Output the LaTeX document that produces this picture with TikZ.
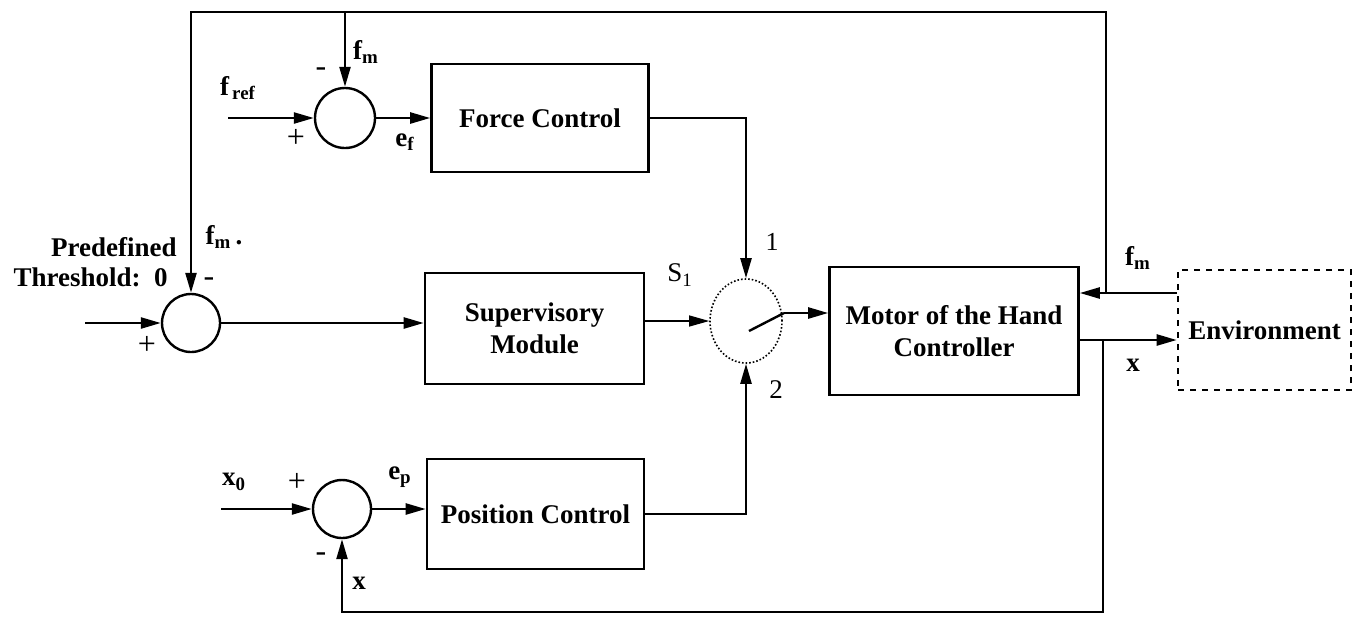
\documentclass[tikz,border=0pt]{standalone}
\usepackage{fontspec}
\setmainfont{Liberation Serif}
\usetikzlibrary{arrows.meta,shapes.geometric}
\begin{document}
\begin{tikzpicture}[x=0.5pt,y={(0pt,-0.5pt)},
  font=\fontsize{13.5}{16}\selectfont\bfseries,
  blk/.style={draw, line width=1.3pt, align=center, inner sep=2pt},
  sumj/.style={draw, circle, line width=1.2pt, minimum size=30pt, inner sep=0pt},
  arr/.style={-{Triangle[length=10pt,width=5.5pt]}, line width=1.2pt},
  wire/.style={line width=1.2pt},
  lbl/.style={inner sep=0pt},
  sign/.style={inner sep=0pt, font=\fontsize{16}{18}\selectfont\mdseries}]
\useasboundingbox (0,0) rectangle (1354,617);

% blocks
\node[blk, minimum width=108.5pt, minimum height=54pt] (fc) at (540,118) {Force Control};
\node[blk, minimum width=109.5pt, minimum height=55.5pt] (sup) at (534.5,328.5) {Supervisory\\Module};
\node[blk, minimum width=108.5pt, minimum height=55pt] (pc) at (535.5,514) {Position Control};
\node[blk, minimum width=124.5pt, minimum height=64pt] (motor) at (954,331) {Motor of the Hand\\Controller};
\node[blk, dashed, minimum width=86.5pt, minimum height=60pt] (env) at (1264.5,330) {Environment};

% summing junctions and switch
\node[sumj] (sumF) at (345,118) {};
\node[sumj, minimum size=29pt] (sumT) at (191,323) {};
\node[sumj, minimum size=29pt] (sumP) at (342,509) {};
\node[draw, ellipse, densely dotted, line width=0.8pt, minimum width=36pt, minimum height=42pt, inner sep=0pt] (sw) at (746,321) {};

% coordinates
\coordinate (jR) at (1106,293);
\coordinate (tR) at (1106,12);
\coordinate (tL) at (191,12);
\coordinate (tF) at (345,12);
\coordinate (fin) at (228,118);
\coordinate (tin) at (85,323);
\coordinate (pin) at (221,509);
\coordinate (xo) at (1103,340);
\coordinate (xb) at (1103,612);
\coordinate (lv1) at (749,331);
\coordinate (lv2) at (784,313);

% connectors
\draw[arr] (env.west |- jR) -- (motor.east |- jR);
\draw[arr] (jR) -- (tR) -- (tL) -- (sumT.north);
\draw[arr] (tF) -- (sumF.north);
\draw[arr] (fin) -- (sumF.west);
\draw[arr] (sumF.east) -- (fc.west);
\draw[arr] (fc.east) -| (sw.north);
\draw[arr] (tin) -- (sumT.west);
\draw[arr] (sumT.east) -- (sup.west |- sumT.east);
\draw[arr, line width=0.6pt] (sup.east |- sw.west) -- (sw.west);
\draw[wire] (lv1) -- (lv2);
\draw[arr] (lv2) -- (motor.west |- lv2);
\draw[arr] (pc.east) -| (sw.south);
\draw[arr] (motor.east |- xo) -- (env.west |- xo);
\draw[arr] (xo) -- (xb) -| (sumP.south);
\draw[arr] (pin) -- (sumP.west);
\draw[arr] (sumP.east) -- (pc.west |- sumP.east);

% labels
\node[lbl] (lfref) at (238,88) {f\textsubscript{\,ref}};
\node[sign] (sF1) at (321,72) {-};
\node[sign] (sF2) at (296,138) {+};
\node[lbl] (lfm1) at (366,52) {f\textsubscript{m}};
\node[lbl] (lef) at (405,142) {e\textsubscript{f}};

\node[lbl, anchor=east] (lpre) at (177,247) {Predefined};
\node[lbl, anchor=east] (lthr) at (168,277) {Threshold:\ \ 0};
\node[lbl] (lfm2) at (224,237) {f\textsubscript{m}\,.};
\node[sign] (sT1) at (209,282) {-};
\node[sign] (sT2) at (147,345) {+};

\node[lbl, font=\fontsize{13.5}{16}\selectfont\mdseries] (lS) at (680,275) {S\textsubscript{1}};
\node[lbl, font=\fontsize{13}{16}\selectfont\mdseries] (l1) at (772,242) {1};
\node[lbl, font=\fontsize{13.5}{16}\selectfont\mdseries] (l2) at (776,390) {2};

\node[lbl] (lfm3) at (1138,258) {f\textsubscript{m}};
\node[lbl] (lx1) at (1133,365) {x};

\node[lbl] (lx0) at (234,482) {x\textsubscript{0}};
\node[sign] (sP1) at (297,482) {+};
\node[lbl] (lep) at (400,477) {e\textsubscript{p}};
\node[sign] (sP2) at (321,557) {-};
\node[lbl] (lx2) at (359,583) {x};
\end{tikzpicture}
\end{document}
